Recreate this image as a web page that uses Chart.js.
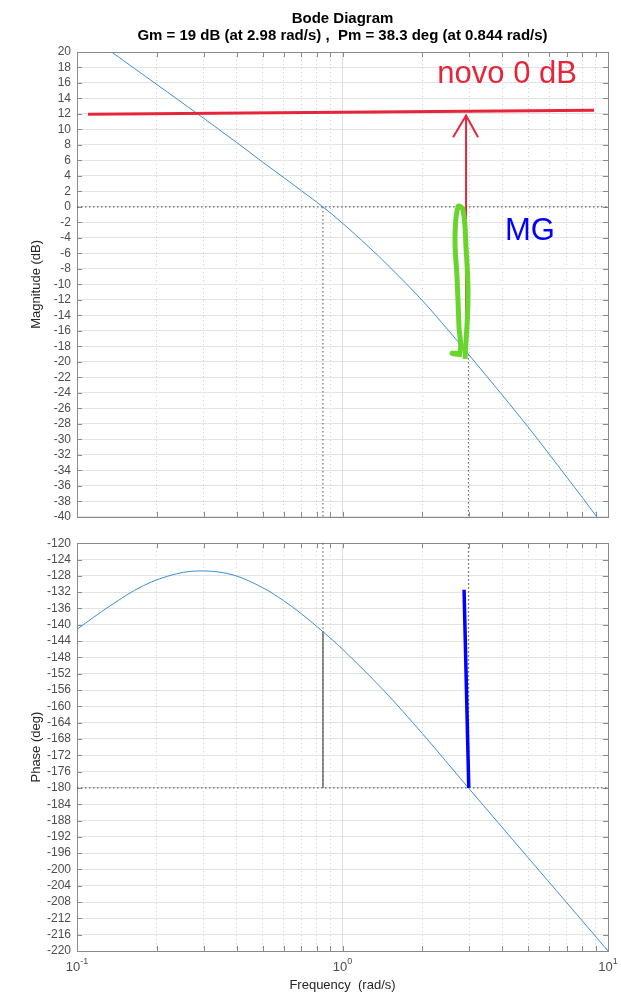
<!DOCTYPE html>
<html lang="en">
<head>
<meta charset="UTF-8">
<title>Bode Diagram</title>
<script src="https://cdn.jsdelivr.net/npm/chart.js"></script>
<style>
  body { margin: 0; background: #fff; }
  #wrap { position: relative; width: 621px; height: 999px; }
  canvas { position: absolute; left: 0; }
</style>
</head>
<body>
<div id="wrap">
  <canvas id="magChart" width="621" height="530" style="top:0"></canvas>
  <canvas id="phaseChart" width="621" height="469" style="top:530px"></canvas>
</div>
<script>
// ---- data ----
const magFreq  = [0.1, 0.135, 0.2, 0.285, 0.4, 0.5, 0.6, 0.7, 0.844, 1.0, 1.25, 1.5, 2.0, 2.5, 2.98, 3.5, 4.0, 5.0, 6.0, 7.0, 8.0, 9.07, 10];
const magDb    = [23.3, 20.0, 15.8, 12.0, 8.3, 5.8, 3.8, 2.1, 0, -2.1, -5.1, -7.7, -12.1, -15.9, -19.0, -21.9, -24.3, -28.4, -31.9, -34.9, -37.5, -40.0, -41.9];

const phaseFreq = [0.1, 0.133, 0.178, 0.237, 0.3, 0.388, 0.5, 0.6, 0.7, 0.844, 1.0, 1.42, 2.0, 2.98, 5.0, 7.0, 10];
const phaseDeg  = [-141.1, -135.4, -130.4, -127.5, -126.8, -127.8, -130.9, -134.1, -137.3, -141.7, -146.0, -155.9, -166.7, -180.0, -197.1, -208.2, -220.0];

const gmFreq = 2.98, gmDb = -19;        // gain margin 19 dB at 2.98 rad/s
const pmFreq = 0.844, pmDeg = -141.7;   // phase margin 38.3 deg at 0.844 rad/s

// hand annotations
const novoFreq = [0.11, 8.86];
const novoDb   = [11.96, 12.47];
const arrowFreq = [2.92, 2.92];
const arrowDb   = [11.8, -19.1];
const headFreq = [2.61, 2.92, 3.24];
const headDb   = [9.0, 11.8, 9.0];
const scribbleFreq = [2.893, 2.97, 2.919, 2.843, 2.723, 2.653, 2.70, 2.747, 2.771, 2.585, 2.819];
const scribbleDb   = [-19.6, -11.6, -5.2, -0.35, 0.04, -3.9, -9.1, -15.5, -18.7, -18.9, -19.1];
const mgFreq = [2.87, 2.99];
const mgDeg  = [-131.4, -180];

// axes
const magRange = [-40, 20], magStep = 2;
const phaseRange = [-220, -120], phaseStep = 4;
const xGrid  = [0.1, 0.2, 0.3, 0.4, 0.5, 0.6, 0.7, 0.8, 0.9, 1, 2, 3, 4, 5, 6, 7, 8, 9, 10];
const xMajor = [0.1, 1, 10];
const xTickExp = ['-1', '0', '1'];
const titleLines = ['Bode Diagram', 'Gm = 19 dB (at 2.98 rad/s) ,  Pm = 38.3 deg (at 0.844 rad/s)'];

const FONT = '"Liberation Sans", Arial, Helvetica, sans-serif';
const pts = (xs, ys) => xs.map((x, i) => ({ x: x, y: ys[i] }));

function line(data, color, width, order, extra) {
  return Object.assign({
    data: data, borderColor: color, borderWidth: width, pointRadius: 0,
    fill: false, order: order, tension: 0
  }, extra || {});
}
const dotted = { borderDash: [1.5, 2.5] };
const smooth = { tension: 0.35 };

// box + inward tick marks, like MATLAB axes
const framePlugin = {
  id: 'frame',
  beforeDatasetsDraw(chart) {
    const { ctx, chartArea: a, scales } = chart;
    ctx.save();
    ctx.strokeStyle = '#8a8a8a';
    ctx.lineWidth = 1;
    ctx.beginPath();
    scales.y.ticks.forEach(t => {
      const py = Math.round(scales.y.getPixelForValue(t.value)) + 0.5;
      ctx.moveTo(a.left, py); ctx.lineTo(a.left + 5, py);
      ctx.moveTo(a.right - 5, py); ctx.lineTo(a.right, py);
    });
    xGrid.forEach(v => {
      const px = Math.round(scales.x.getPixelForValue(v)) + 0.5;
      ctx.moveTo(px, a.top); ctx.lineTo(px, a.top + 5);
      ctx.moveTo(px, a.bottom - 5); ctx.lineTo(px, a.bottom);
    });
    ctx.stroke();
    ctx.strokeRect(Math.round(a.left) + 0.5, Math.round(a.top) + 0.5,
                   Math.round(a.right - a.left), Math.round(a.bottom - a.top));
    ctx.restore();
  }
};

function makeOptions(range, step, yTitle, padding) {
  return {
    responsive: false,
    animation: false,
    layout: { padding: padding },
    plugins: { legend: { display: false }, tooltip: { enabled: false } },
    scales: {
      x: {
        type: 'logarithmic', min: 0.1, max: 10,
        afterBuildTicks: s => { s.ticks = xGrid.map(v => ({ value: v, major: xMajor.includes(v) })); },
        afterFit: s => { s.height = 0; },
        ticks: { display: false, autoSkip: false },
        border: { display: false, dash: c => (c.tick && !c.tick.major) ? [1, 3] : [] },
        grid: { drawTicks: false, color: c => (c.tick && c.tick.major) ? '#dedede' : '#cfcfcf' }
      },
      y: {
        min: range[0], max: range[1],
        afterFit: s => { s.width = 77; },
        ticks: { stepSize: step, autoSkip: false, padding: 6, color: '#4d4d4d', font: { family: FONT, size: 12 } },
        border: { display: false },
        grid: { drawTicks: false, color: '#e3e3e3' },
        title: { display: true, text: yTitle, color: '#262626', font: { family: FONT, size: 13 }, padding: { top: 28.5, bottom: 0 } }
      }
    }
  };
}

// ---- magnitude ----
const magOpts = makeOptions(magRange, magStep, 'Magnitude (dB)', { top: 52, right: 13, bottom: 8.3, left: 0 });
new Chart(document.getElementById('magChart'), {
  type: 'line',
  data: {
    datasets: [
      line(pts(scribbleFreq, scribbleDb), '#68d42c', 5, 0, { tension: 0.4 }),
      line(pts(arrowFreq, arrowDb), '#e6253b', 2, 1),
      line(pts(headFreq, headDb), '#e6253b', 2, 1),
      line(pts(novoFreq, novoDb), '#e6253b', 3, 1),
      line(pts(magFreq, magDb), '#3d8fd6', 1, 2, smooth),
      line([{ x: 0.1, y: 0 }, { x: 10, y: 0 }], '#4a4a4a', 1, 3, dotted),
      line([{ x: pmFreq, y: 0 }, { x: pmFreq, y: magRange[0] }], '#4a4a4a', 1, 3, dotted),
      line([{ x: gmFreq, y: gmDb }, { x: gmFreq, y: magRange[0] }], '#4a4a4a', 1, 3, dotted)
    ]
  },
  options: magOpts,
  plugins: [framePlugin, {
    id: 'magText',
    afterDatasetsDraw(chart) {
      const { ctx, scales: { x, y }, chartArea: a } = chart;
      ctx.save();
      ctx.textAlign = 'center';
      ctx.textBaseline = 'middle';
      ctx.fillStyle = '#e6253b';
      ctx.font = '31px ' + FONT;
      ctx.fillText('novo 0 dB', x.getPixelForValue(4.17), y.getPixelForValue(17.1));
      ctx.fillStyle = '#0000ff';
      ctx.fillText('MG', x.getPixelForValue(5.08), y.getPixelForValue(-3.2));
      // title
      ctx.fillStyle = '#000';
      ctx.font = 'bold 15px ' + FONT;
      const cx = (a.left + a.right) / 2;
      ctx.fillText(titleLines[0], cx, 19);
      ctx.fillText(titleLines[1], cx, 36);
      ctx.restore();
    }
  }]
});

// ---- phase ----
const phaseOpts = makeOptions(phaseRange, phaseStep, 'Phase (deg)', { top: 6.7, right: 13, bottom: 48, left: 0 });
new Chart(document.getElementById('phaseChart'), {
  type: 'line',
  data: {
    datasets: [
      line(pts(mgFreq, mgDeg), '#0000ff', 3.5, 0),
      line([{ x: pmFreq, y: pmDeg }, { x: pmFreq, y: -180 }], '#6e6e6e', 1.5, 1),
      line(pts(phaseFreq, phaseDeg), '#3d8fd6', 1, 2, smooth),
      line([{ x: 0.1, y: -180 }, { x: 10, y: -180 }], '#4a4a4a', 1, 3, dotted),
      line([{ x: pmFreq, y: phaseRange[1] }, { x: pmFreq, y: -180 }], '#4a4a4a', 1, 3, dotted),
      line([{ x: gmFreq, y: phaseRange[1] }, { x: gmFreq, y: -180 }], '#4a4a4a', 1, 3, dotted)
    ]
  },
  options: phaseOpts,
  plugins: [framePlugin, {
    id: 'xLabels',
    afterDraw(chart) {
      const { ctx, scales: { x }, chartArea: a } = chart;
      ctx.save();
      ctx.fillStyle = '#4d4d4d';
      ctx.textBaseline = 'alphabetic';
      ctx.textAlign = 'left';
      const base = a.bottom + 20;
      xMajor.forEach((v, i) => {
        const px = x.getPixelForValue(v);
        ctx.font = '13px ' + FONT;
        const w1 = ctx.measureText('10').width;
        ctx.font = '9px ' + FONT;
        const w2 = ctx.measureText(xTickExp[i]).width;
        const x0 = px - (w1 + w2) / 2;
        ctx.font = '13px ' + FONT;
        ctx.fillText('10', x0, base);
        ctx.font = '9px ' + FONT;
        ctx.fillText(xTickExp[i], x0 + w1, base - 7);
      });
      ctx.fillStyle = '#262626';
      ctx.textAlign = 'center';
      ctx.textBaseline = 'middle';
      ctx.font = '13px ' + FONT;
      ctx.fillText('Frequency  (rad/s)', (a.left + a.right) / 2, a.bottom + 34);
      ctx.restore();
    }
  }]
});
</script>
</body>
</html>
